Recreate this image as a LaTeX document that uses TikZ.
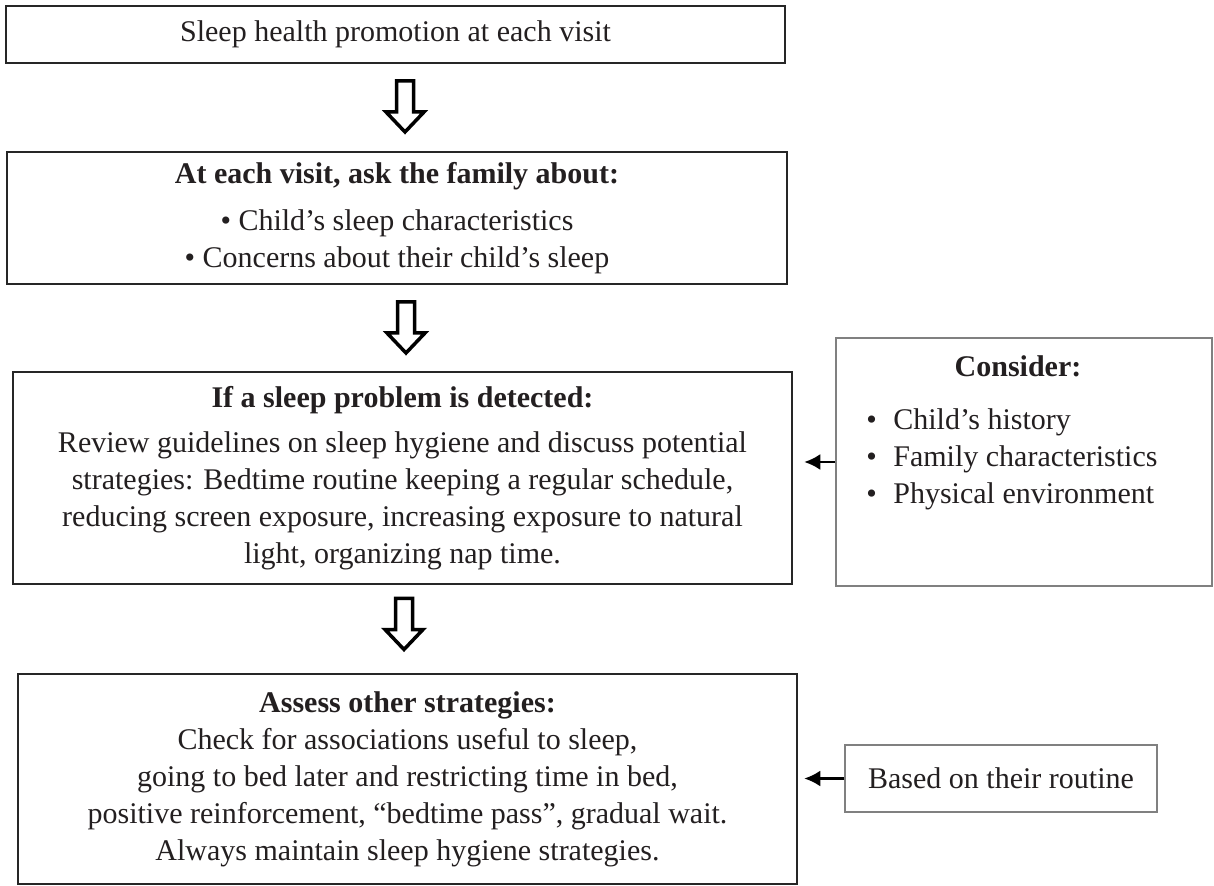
\documentclass[tikz,border=0pt]{standalone}
\usepackage{fontspec}
\setmainfont{Liberation Serif}
\usetikzlibrary{arrows.meta,calc}
\definecolor{ink}{HTML}{231F20}
\definecolor{frame}{HTML}{262626}
\definecolor{sideframe}{HTML}{808080}
\begin{document}
\begin{tikzpicture}[x=0.5pt,y=-0.5pt,
  every node/.style={text=ink, font=\fontsize{15}{18.5}\selectfont},
  mainbox/.style={draw=frame, line width=1.25pt, inner sep=0pt, align=center},
  sidebox/.style={draw=sideframe, line width=0.75pt, inner sep=0pt, align=center},
  sidearrow/.style={draw=black, line width=1.2pt, -{Latex[length=8pt,width=8pt]}},
  hollowarrow/.pic={\draw[draw=black, line width=1.75pt, line join=miter, fill=white]
    (-8.5,-25.5) -- (8.5,-25.5) -- (8.5,5.5) -- (19,5.5) -- (0,25.5) -- (-19,5.5) -- (-8.5,5.5) -- cycle;}
]
\useasboundingbox (0,0) rectangle (1214,886);

% main column
\node[mainbox, minimum width=389.5pt, minimum height=28.5pt] (b1) at (395.5,34.5)
  {Sleep health promotion at each visit};

\node[mainbox, minimum width=390pt, minimum height=66pt] (b2) at (397,218)
  {\textbf{At each visit, ask the family about:}\\[5pt]
   • Child’s sleep characteristics\\
   • Concerns about their child’s sleep};

\node[mainbox, minimum width=389.5pt, minimum height=106pt] (b3) at (402.5,478)
  {\textbf{If a sleep problem is detected:}\\[4pt]
   Review guidelines on sleep hygiene and discuss potential\\
   strategies: Bedtime routine keeping a regular schedule,\\
   reducing screen exposure, increasing exposure to natural\\
   light, organizing nap time.};

\node[mainbox, minimum width=389.5pt, minimum height=105pt] (b4) at (407.5,779)
  {\textbf{Assess other strategies:}\\
   Check for associations useful to sleep,\\
   going to bed later and restricting time in bed,\\
   positive reinforcement, “bedtime pass”, gradual wait.\\
   Always maintain sleep hygiene strategies.};

% hollow arrows
\pic at (405,106.5) {hollowarrow};
\pic at (406,327.5) {hollowarrow};
\pic at (404,624) {hollowarrow};

% side boxes
\node[sidebox, minimum width=188pt, minimum height=124pt] (cons) at (1024,462) {};
\node[anchor=base] (constitle) at (1018,377) {\textbf{Consider:}};
\node[anchor=base west, inner sep=0pt] (ci1) at (866,430) {\makebox[13.5pt][l]{•}Child’s history};
\node[anchor=base west, inner sep=0pt] (ci2) at (866,467) {\makebox[13.5pt][l]{•}Family characteristics};
\node[anchor=base west, inner sep=0pt] (ci3) at (866,504) {\makebox[13.5pt][l]{•}Physical environment};

\node[sidebox, minimum width=156pt, minimum height=33.5pt] (based) at (1001,778.5)
  {Based on their routine};

% side arrows
\draw[sidearrow] (cons.west) -- ($(b3.east |- cons.west)+(11,0)$);
\draw[sidearrow] (based.west) -- ($(b4.east |- based.west)+(6,0)$);
\end{tikzpicture}
\end{document}
